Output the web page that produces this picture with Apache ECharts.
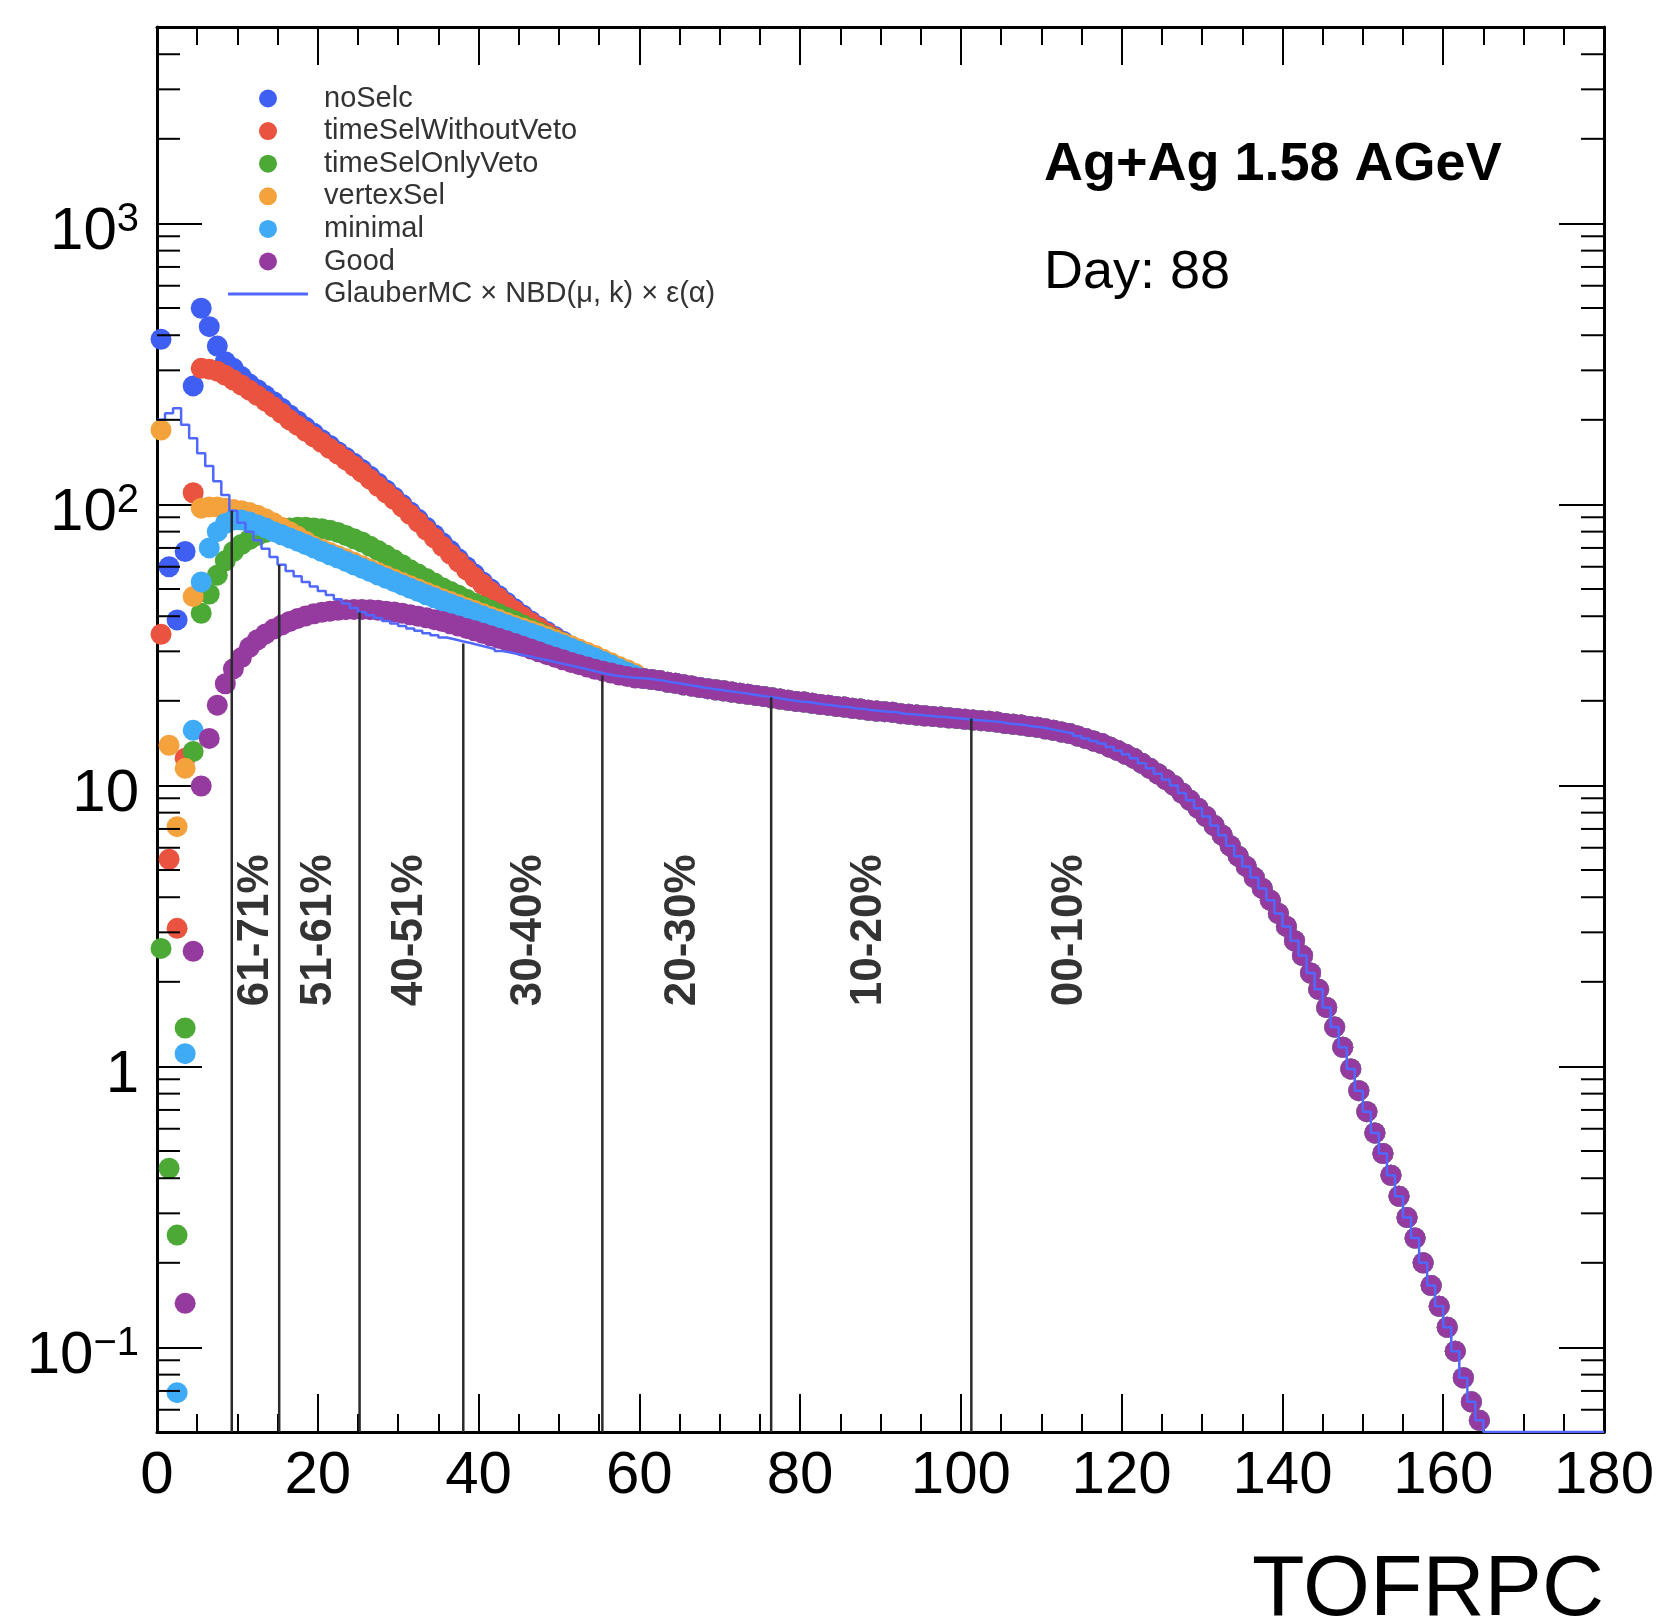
<!DOCTYPE html>
<html><head><meta charset="utf-8">
<script src="https://cdn.jsdelivr.net/npm/echarts@6/dist/echarts.min.js"></script>
<style>html,body{margin:0;padding:0;background:#fff}#c{width:1666px;height:1623px}</style>
</head><body><div id="c"></div>
<script>
// ---------------- data (bins of width 1, bin i spans [i, i+1]) ----------------
const seriesNames = ['noSelc', 'timeSelWithoutVeto', 'timeSelOnlyVeto', 'vertexSel', 'minimal', 'Good'];
const glauberName = 'GlauberMC \u00d7 NBD(\u03bc, k) \u00d7 \u03b5(\u03b1)';

// bins 0..59 (differ between selections)
const noSelcHead = [387,60,38.8,68,264,499,429,366,322,305, 285,268,256,244,232,220,208,198,188,179,
  170,162,154,147,140,133,126,119,112.5,106, 100,94,88.5,83,78,73,68.5,64,60,56.5,
  53,50,47.3,44.8,42.5,40.4,38.5,36.8,35.3,33.9, 32.6,31.3,30.2,29.1,28.1,27.1,26.3,25.6,24.9,24.4];
const timeSelWithoutVetoHead = [34.5,5.46,3.1,12.5,110,305,303,298,288,277, 266,255,244,233,222,211,200,191,182,174,
  166,158,151,144,137,130,123,116,110,104, 98,92,86.5,81,76,71,66.5,62.5,58.5,55,
  52,49,46.5,44,41.8,39.8,38,36.4,34.9,33.5, 32.2,31,29.9,28.8,27.8,26.9,26.1,25.4,24.8,24.3];
const timeSelOnlyVetoHead = [2.63,0.434,0.251,1.37,13.2,41,48,56,63,68, 72,75,77.5,79.5,81,82,82.5,83,83,82.5,
  82,81,79.5,77.5,75.5,73.5,71,68.5,66,63.5, 61,58.5,56.5,54.5,52.5,50.5,49,47.5,46,44.5,
  43.3,42,40.8,39.6,38.5,37.2,36.1,35.1,34.1,33.1, 32.2,31.3,30.4,29.5,28.6,27.8,27,26.2,25.5,24.8];
const vertexSelHead = [184,13.9,7.13,11.5,47,97,98,98,97,96, 95,93.5,91.5,89,86,83,80,77,74,71,
  69.3,67.5,65.7,64,62.2,60.5,58.8,57.2,55.7,54.2, 52.7,51.3,50,48.7,47.4,46.2,45.1,44,42.9,41.9,
  40.9,39.9,39,38,37.1,36.3,35.5,34.7,33.9,33, 32.2,31.4,30.6,29.8,29,28.1,27.3,26.5,25.8,25];
const minimalHead = [null,null,0.069,1.11,15.7,53,70,80,85.5,88, 88,86.5,84.5,82.5,80,78,76,74,72,70,
  68,66.2,64.4,62.7,61,59.3,57.7,56.1,54.6,53.1, 51.7,50.3,49,47.7,46.5,45.3,44.2,43.1,42.1,41.1,
  40.1,39.1,38.2,37.3,36.4,35.6,34.8,34,33.2,32.4, 31.6,30.8,30,29.2,28.4,27.6,26.8,26,25.3,24.6];
const goodHead = [null,null,null,0.1435,2.57,9.95,14.7,19.3,23,26, 28.5,31,33,34.6,36,37.2,38.3,39.3,40.1,40.8,
  41.3,41.7,42,42.2,42.3,42.3,42.2,42,41.7,41.4, 41,40.5,40,39.5,38.9,38.3,37.6,36.9,36.2,35.5,
  34.8,34.1,33.4,32.7,32,31.3,30.6,29.9,29.2,28.6, 28,27.4,26.9,26.4,25.9,25.5,25.1,24.7,24.4,24.1];
const glauberHead = [200,211,220,192,172,152,137,121,108,95, 86,80,74.5,69.5,65,61,58,55.5,53,51,
  49.2,47.6,46,44.4,42.8,41.3,40.3,39.4,38.5,37.7, 36.9,36.2,35.5,34.8,34.2,33.6,33.1,32.6,32.1,31.6,
  31.1,30.6,30.1,29.7,29.3,28.9,28.5,28.1,27.7,27.3, 26.9,26.5,26.1,25.7,25.3,24.9,24.6,24.4,24.2,24.1];

// bins 60..164 (all selections and the fit coincide here)
const commonTail = [24.0,23.8,23.6,23.3,23.1,22.8,22.6,22.3,22.1,21.9,
  21.7,21.5,21.3,21.1,20.9,20.7,20.5,20.3,20.1,19.9,
  19.8,19.6,19.4,19.3,19.1,19.0,18.8,18.7,18.5,18.4,
  18.3,18.2,18.0,17.9,17.8,17.7,17.6,17.5,17.4,17.3,
  17.2,17.1,17.0,16.9,16.8,16.6,16.5,16.4,16.2,16.1,
  15.9,15.7,15.5,15.3,15.0,14.7,14.4,14.1,13.7,13.3,
  12.9,12.5,12.0,11.5,11.0,10.5,10.0,9.4,8.85,8.3,
  7.75,7.2,6.65,6.1,5.6,5.15,4.7,4.3,3.9,3.5,
  3.15,2.8,2.48,2.15,1.88,1.62,1.38,1.17,0.98,0.82,
  0.69,0.58,0.49,0.41,0.345,0.29,0.245,0.2,0.166,0.14,
  0.118,0.097,0.078,0.064,0.055];
// fit bins 165..179 lie at/below the frame bottom
const glauberBelow = [0.05,0.05,0.05,0.05,0.05,0.05,0.05,0.05,0.05,0.05,0.05,0.05,0.05,0.05,0.05];

const centralityEdges = [9.3, 15.2, 25.2, 38.1, 55.4, 76.4, 101.3];
const centralityTops = [95, 61, 41.3, 32, 24.6, 20.6, 17.3];
const centralityLabels = ['61-71%', '51-61%', '40-51%', '30-40%', '20-30%', '10-20%', '00-10%'];
const centralityLabelX = [12.3, 20.1, 31.4, 46.3, 65.4, 88.5, 113.6];
const centralityLabelY = 3.05;

const yRange = [0.05, 5000];
// ---------------------------------------------------------------------------

const colors = ['#3f5ff2', '#e9533f', '#4ca935', '#f3a23c', '#3faaf6', '#953a9f'];
const glauberColor = '#5168ff';
const FONT = '"Liberation Sans", Arial, Helvetica, sans-serif';

function binPoints(head, tail) {
  const pts = [];
  head.concat(tail).forEach((v, i) => { if (v != null) pts.push([i + 0.5, v]); });
  return pts;
}
const heads = [noSelcHead, timeSelWithoutVetoHead, timeSelOnlyVetoHead, vertexSelHead, minimalHead, goodHead];

const glauberVals = glauberHead.concat(commonTail, glauberBelow);
const glauberPts = glauberVals.map((v, i) => [i, v]);
glauberPts.push([glauberVals.length, glauberVals[glauberVals.length - 1]]);

const yMinor = [];
for (let e = -2; e <= 3; e++) for (let m = 2; m <= 9; m++) {
  const v = m * Math.pow(10, e);
  if (v > yRange[0] * 1.001 && v < yRange[1] * 0.999) yMinor.push([0, v]);
}

const sup = {'-1': '\u22121', '2': '2', '3': '3'};
function yLabel(v) {
  const l = Math.log10(v), e = Math.round(l);
  if (Math.abs(l - e) > 1e-6) return '';
  if (e === 0) return '{b|1}';
  if (e === 1) return '{b|10}';
  return '{b|10}{s|' + (sup[String(e)] || String(e)) + '}';
}

const axisCommonX = {
  type: 'value', min: 0, max: 180, interval: 20,
  axisLine: {show: true, onZero: false, lineStyle: {color: '#000', width: 3}},
  axisTick: {show: true, inside: true, length: 38, lineStyle: {color: '#000', width: 2}},
  minorTick: {show: true, splitNumber: 4, length: 18, lineStyle: {color: '#000', width: 2}},
  splitLine: {show: false}, minorSplitLine: {show: false}
};
const axisCommonY = {
  type: 'log', logBase: 10, min: yRange[0], max: yRange[1],
  axisLine: {show: true, onZero: false, lineStyle: {color: '#000', width: 3}},
  axisTick: {show: true, inside: true, length: 45, lineStyle: {color: '#000', width: 2}},
  splitLine: {show: false}
};

const series = [];
seriesNames.forEach((n, k) => {
  series.push({
    name: n, type: 'scatter', data: binPoints(heads[k], commonTail),
    symbol: 'circle', symbolSize: 21, itemStyle: {color: colors[k], opacity: 1},
    silent: true, z: 2
  });
});
series.push({
  name: glauberName, type: 'line', step: 'end', data: glauberPts, symbol: 'none', showSymbol: false,
  lineStyle: {color: glauberColor, width: 2.5}, itemStyle: {color: glauberColor}, silent: true, z: 3
});
series.push({
  type: 'custom', name: 'centralityLines', silent: true, z: 4,
  data: centralityEdges.map((x, i) => [x, centralityTops[i]]),
  renderItem: (params, api) => {
    const p0 = api.coord([api.value(0), yRange[0]]);
    const p1 = api.coord([api.value(0), api.value(1)]);
    return {type: 'line', shape: {x1: p0[0], y1: p0[1], x2: p1[0], y2: p1[1]},
      style: {stroke: '#2a2a2a', lineWidth: 2.5}};
  }
});
series.push({
  type: 'scatter', name: 'centralityLabels', silent: true, z: 5,
  symbolSize: 0.1, itemStyle: {color: 'rgba(0,0,0,0)'},
  data: centralityLabels.map((t, i) => ({name: t, value: [centralityLabelX[i], centralityLabelY]})),
  label: {show: true, position: 'inside', rotate: 90, formatter: p => p.name,
    fontSize: 44, fontWeight: 'bold', fontFamily: FONT, color: '#000'}
});
series.push({
  type: 'custom', name: 'yMinorTicks', silent: true, z: 6, data: yMinor,
  renderItem: (params, api) => {
    const v = api.value(1);
    const pl = api.coord([0, v]), pr = api.coord([180, v]);
    return {type: 'group', children: [
      {type: 'line', shape: {x1: pl[0], y1: pl[1], x2: pl[0] + 23, y2: pl[1]}, style: {stroke: '#000', lineWidth: 2}},
      {type: 'line', shape: {x1: pr[0], y1: pr[1], x2: pr[0] - 23, y2: pr[1]}, style: {stroke: '#000', lineWidth: 2}}
    ]};
  }
});

const option = {
  animation: false,
  backgroundColor: '#fff',
  grid: {left: 157, right: 62, top: 27, bottom: 191, containLabel: false, outerBoundsMode: 'none'},
  xAxis: [
    Object.assign({}, axisCommonX, {position: 'bottom',
      axisLabel: {show: true, fontSize: 60, color: '#000', fontFamily: FONT, margin: 14}}),
    Object.assign({}, axisCommonX, {position: 'top', axisLabel: {show: false}})
  ],
  yAxis: [
    Object.assign({}, axisCommonY, {position: 'left',
      axisLabel: {show: true, margin: 18, formatter: yLabel, color: '#000',
        rich: {
          b: {fontSize: 60, fontFamily: FONT, color: '#000', lineHeight: 60, padding: [18, 0, 0, 0]},
          s: {fontSize: 40, fontFamily: FONT, color: '#000', lineHeight: 40, verticalAlign: 'top', padding: [7, 0, 0, 0]}
        }}}),
    Object.assign({}, axisCommonY, {position: 'right', axisLabel: {show: false}})
  ],
  legend: [
    {data: seriesNames, orient: 'vertical', left: 254, top: 79, itemWidth: 18, itemHeight: 18, itemGap: 3.6,
      selectedMode: false, icon: 'circle',
      textStyle: {fontSize: 29, lineHeight: 29, color: '#333', fontFamily: FONT, padding: [0, 0, 0, 42]}},
    {data: [{name: glauberName, icon: 'rect'}], orient: 'vertical', left: 223, top: 274.5, itemWidth: 80, itemHeight: 3,
      selectedMode: false,
      textStyle: {fontSize: 29, lineHeight: 29, color: '#333', fontFamily: FONT, padding: [0, 0, 0, 11]}}
  ],
  graphic: [
    {type: 'text', x: 1044, y: 165, silent: true,
      style: {text: 'Ag+Ag 1.58 AGeV', fontSize: 54, fontWeight: 'bold', fontFamily: FONT, fill: '#000', verticalAlign: 'middle', align: 'left'}},
    {type: 'text', x: 1044, y: 273, silent: true,
      style: {text: 'Day: 88', fontSize: 54, fontFamily: FONT, fill: '#000', verticalAlign: 'middle', align: 'left'}},
    {type: 'text', x: 1604, y: 1591, silent: true,
      style: {text: 'TOFRPC', fontSize: 86, fontFamily: FONT, fill: '#000', verticalAlign: 'middle', align: 'right'}}
  ],
  series: series
};
const chart = echarts.init(document.getElementById('c'));
chart.setOption(option);
</script>
</body></html>
